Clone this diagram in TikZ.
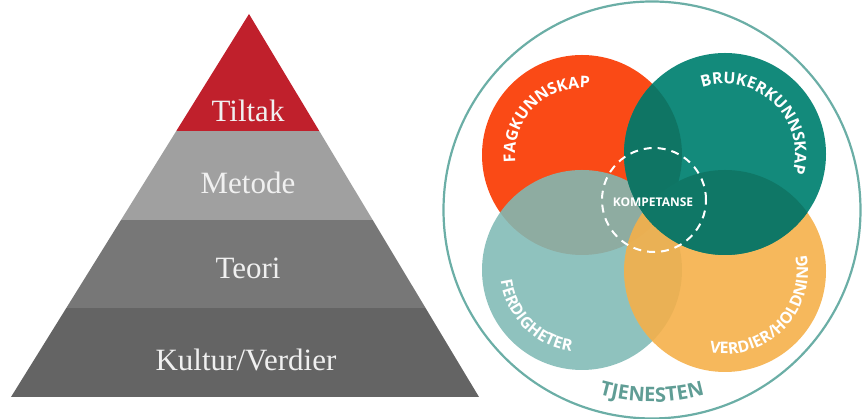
\documentclass[tikz,border=0pt]{standalone}
\usepackage{fontspec}
\setmainfont{Liberation Serif}
\newfontfamily\circfont{Open Sans}
\usetikzlibrary{calc}
\usetikzlibrary{decorations.text}

\definecolor{tiltakred}{HTML}{C0202C}
\definecolor{metodegrey}{HTML}{A0A0A0}
\definecolor{teorigrey}{HTML}{777777}
\definecolor{kulturgrey}{HTML}{646464}
\definecolor{fagorange}{HTML}{FA4A16}
\definecolor{brukerteal}{HTML}{138A7B}
\definecolor{brukerdark}{HTML}{0F7564}
\definecolor{ferdteal}{HTML}{80BAB5}
\definecolor{verdiyellow}{HTML}{F5B04A}
\definecolor{ringteal}{HTML}{6BAEA6}

\tikzset{
	layertext/.style={text=white!94!black, font=\fontsize{31}{31}\selectfont},
	circlabel/.style={decorate, decoration={text along path, text align=center, text color=white,
		text={|\circfont\bfseries\fontsize{16}{16}\selectfont|#1}}},
}

\begin{document}
\begin{tikzpicture}[x=1pt,y=1pt]
	\useasboundingbox (0,0) rectangle (863,419);
	% pyramid
	\coordinate (apex) at (249,405);
	\coordinate (bl) at (11,22);
	\coordinate (br) at (479,22);
	\begin{scope}
		\clip (bl) -- (apex) -- (br) -- cycle;
		\fill[kulturgrey] (0,22) rectangle (480,111);
		\fill[teorigrey] (0,111) rectangle (480,199);
		\fill[metodegrey] (0,199) rectangle (480,288);
		\fill[tiltakred] (0,288) rectangle (480,406);
	\end{scope}
	\node[layertext] (tiltak) at (248,308) {Tiltak};
	\node[layertext] (metode) at (248,236) {Metode};
	\node[layertext] (teori) at (248,151) {Teori};
	\node[layertext] (kultur) at (246,59) {Kultur/Verdier};
	% circles
	\coordinate (tjen) at (652,209);
	\coordinate (fag) at (582,264);
	\coordinate (bruker) at (725,265);
	\coordinate (ferd) at (582,149);
	\coordinate (verdi) at (725,148);
	\coordinate (komp) at (654,219);
	\draw[ringteal, line width=2.2pt] (tjen) circle[radius=208.5];
	\fill[fagorange] (fag) circle[radius=100];
	\fill[ferdteal, opacity=.88] (ferd) circle[radius=100];
	\fill[verdiyellow, opacity=.9] (verdi) circle[radius=101];
	\fill[brukerteal] (bruker) circle[radius=101];
	% darker teal where it lies over orange and yellow
	\begin{scope}
		\clip (bruker) circle[radius=101];
		\fill[brukerdark] (fag) circle[radius=100];
		\fill[brukerdark!92!brukerteal] (verdi) circle[radius=101];
	\end{scope}
	\draw[white, line width=2pt, dash pattern=on 8pt off 6pt] (komp) circle[radius=52];
	\node[text=white, font=\circfont\bfseries\fontsize{12}{12}\selectfont] (kompetanse) at (653,217) {KOMPETANSE};
	% labels along the circles
	\path[circlabel=FAGKUNNSKAP] ($(fag)+(200:67)$) arc[start angle=200, end angle=70, radius=67];
	\path[circlabel=BRUKERKUNNSKAP] ($(bruker)+(125:70)$) arc[start angle=125, end angle=-32, radius=70];
	\path[circlabel=FERDIGHETER] ($(ferd)+(160:82)$) arc[start angle=160, end angle=290, radius=82];
	\path[circlabel=VERDIER/HOLDNING] ($(verdi)+(245:83)$) arc[start angle=245, end angle=385, radius=83];
	\path[decorate, decoration={text along path, text align=center, text color=ringteal!90!black,
		text={|\circfont\bfseries\fontsize{20}{20}\selectfont|TJENESTEN}}]
		($(tjen)+(235:192)$) arc[start angle=235, end angle=305, radius=192];
\end{tikzpicture}
\end{document}
